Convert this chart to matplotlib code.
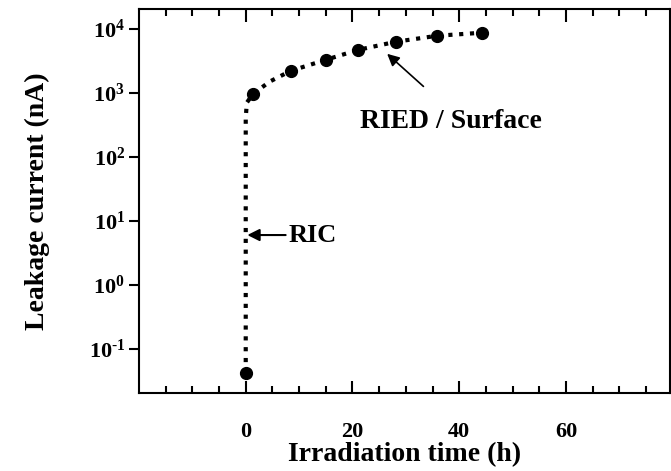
import matplotlib.pyplot as plt
import numpy as np

# measured points
time_h = [0, 1.3, 8.4, 15.1, 21.1, 28.2, 35.9, 44.3]
current_nA = [0.042, 950, 2200, 3300, 4700, 6300, 7800, 8700]

# guide curve (dotted)
fit_time = [0, 0, 0.2, 1.3, 4.5, 8.4, 15.1, 21.1, 28.2, 35.9, 44.3]
fit_current = [0.042, 400, 700, 950, 1500, 2200, 3300, 4700, 6300, 7800, 8700]

y_ticks = [0.1, 1, 10, 100, 1000, 10000]
y_exps = ['\u2010' + '1', '0', '1', '2', '3', '4']
y_labels = [r'$\mathbf{10^{' + e + '}}$' for e in y_exps]
x_ticks = [0, 20, 40, 60]

plt.rcParams['font.family'] = ['Liberation Serif', 'DejaVu Serif']
plt.rcParams['mathtext.fontset'] = 'custom'
plt.rcParams['mathtext.rm'] = 'Liberation Serif:bold'
plt.rcParams['mathtext.bf'] = 'Liberation Serif:bold'
plt.rcParams['mathtext.it'] = 'Liberation Serif:bold'

fig = plt.figure(figsize=(6.71, 4.71), dpi=100)
ax = fig.add_axes([139 / 671, 78 / 471, 531 / 671, 384 / 471])

ax.plot(fit_time, fit_current, color='black', linestyle=(0, (1.0, 1.6)),
        linewidth=3.0, dash_capstyle='butt')
ax.plot(time_h, current_nA, 'o', color='black', markersize=8.5)

ax.set_yscale('log')
ax.set_xlim(-20, 79.5)
ax.set_ylim(10 ** -1.69, 10 ** 4.31)

ax.set_yticks(y_ticks)
ax.set_yticklabels(y_labels)
ax.yaxis.set_minor_locator(plt.NullLocator())
ax.set_xticks(x_ticks)
ax.set_xticks(np.arange(-15, 80, 5), minor=True)

ax.tick_params(axis='x', which='major', direction='in', length=9, width=1.5,
               top=True, pad=21, labelsize=16)
ax.tick_params(axis='x', which='minor', direction='in', length=5, width=1.5,
               top=True)
ax.tick_params(axis='y', which='major', direction='out', length=7, width=1.5,
               labelsize=16, pad=3)
for lab in ax.get_xticklabels():
    lab.set_fontweight('bold')

for sp in ax.spines.values():
    sp.set_linewidth(1.5)

ax.set_xlabel('Irradiation time (h)', fontsize=20, fontweight='bold', labelpad=0)
ax.set_ylabel('Leakage current (nA)', fontsize=20, fontweight='bold', labelpad=28)

ax.annotate('RIC', xy=(0.3, 6), xytext=(8, 6), fontsize=19,
            fontweight='bold', va='center', ha='left',
            arrowprops=dict(arrowstyle='-|>', color='black', lw=1.5,
                            mutation_scale=18, shrinkA=0, shrinkB=0))
ax.annotate('', xy=(26.5, 4070), xytext=(33.3, 1260),
            arrowprops=dict(arrowstyle='-|>', color='black', lw=1.2,
                            mutation_scale=18, shrinkA=0, shrinkB=0))
ax.text(38.5, 360, 'RIED / Surface', fontsize=20, fontweight='bold',
        va='center', ha='center')

fig.savefig('out.png', dpi=100)
